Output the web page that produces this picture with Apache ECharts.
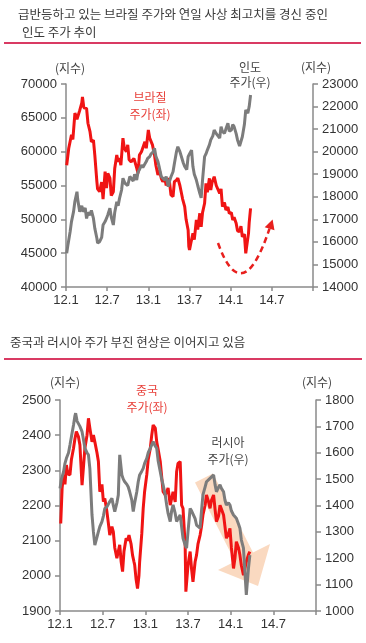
<!DOCTYPE html>
<html><head><meta charset="utf-8">
<script src="https://cdn.jsdelivr.net/npm/echarts@6/dist/echarts.min.js"></script>
<style>html,body{margin:0;padding:0;background:#fff;}#c{width:366px;height:643px;}</style>
</head><body><div id="c"></div>
<script>
// x tick labels (every 6 months from 2012.1)
const xTickLabels = ['12.1','12.7','13.1','13.7','14.1','14.7',''];

// Chart 1: Brazil (left axis) - months since 2012.1
const brazilT = [0.1,0.4,0.8,1.0,1.3,1.6,2.0,2.3,2.4,2.6,3.0,3.2,3.5,3.7,4.0,4.2,4.5,4.6,4.9,5.2,5.4,5.7,5.9,6.1,6.4,6.6,6.9,7.1,7.4,7.6,7.8,8.0,8.3,8.5,8.8,9.0,9.2,9.5,9.9,10.3,10.5,10.7,11.0,11.5,11.7,12.0,12.2,12.4,12.6,12.9,13.1,13.4,13.6,13.9,14.1,14.4,14.6,14.9,15.1,15.3,15.6,15.8,16.1,16.3,16.6,16.8,17.0,17.3,17.5,17.8,17.9,18.0,18.2,18.5,18.7,19.0,19.2,19.5,19.7,19.9,20.2,20.4,20.6,20.9,21.1,21.3,21.6,21.9,22.1,22.4,22.6,22.8,23.1,23.3,23.6,23.8,24.1,24.3,24.5,24.8,25.0,25.3,25.5,25.7,26.0,26.2,26.4,26.6,26.7,26.9];
const brazilV = [58000,60500,62500,61800,65700,64800,66100,67200,68100,66500,66400,64200,62950,61470,61700,59500,55560,54500,54080,55500,53000,57040,54630,56800,56100,53500,54080,57500,59500,58500,59060,58000,62000,60500,60000,61000,58800,58500,59000,57600,56800,59500,60000,61470,60500,63200,62000,62000,61000,59500,58000,56550,57300,56000,55560,56100,55000,56100,55400,53600,53340,55560,55800,56100,55000,55000,53000,51870,50000,48420,46000,45460,46500,47930,47000,49900,48500,50890,48900,51000,52370,55320,54000,56060,54330,55500,56300,55000,54820,53850,54500,51870,52500,51380,51800,50890,51000,49900,50300,49410,48300,48170,49000,47430,47800,44980,46500,47930,49500,51630];

// Chart 1: India (right axis)
const indiaT = [0.1,0.3,0.6,0.8,1.1,1.3,1.6,1.7,2.0,2.3,2.5,2.8,3.0,3.2,3.5,3.7,4.0,4.2,4.5,4.6,4.9,5.2,5.4,5.7,5.9,6.1,6.4,6.6,6.9,7.1,7.4,7.6,7.8,8.1,8.3,8.6,8.8,9.0,9.3,9.5,9.8,10.0,10.3,10.5,10.7,11.0,11.2,11.7,11.9,12.2,12.4,12.7,12.9,13.1,13.4,13.6,13.9,14.1,14.4,14.6,14.9,15.1,15.3,15.6,15.8,16.1,16.3,16.6,16.8,17.1,17.3,17.6,17.8,18.0,18.3,18.5,18.7,19.0,19.2,19.5,19.7,19.9,20.2,20.4,20.6,20.9,21.1,21.4,21.6,21.9,22.1,22.4,22.6,22.8,23.1,23.3,23.6,23.8,24.1,24.3,24.5,24.8,25.0,25.3,25.5,25.7,26.0,26.2,26.5,26.7,26.9];
const indiaV = [15500,15900,16450,16900,17340,17800,18225,17900,17340,17600,17340,17500,17040,17300,17190,17400,17040,16600,16160,15950,16010,16200,16750,16900,17040,17200,17490,17100,16750,17300,17780,17600,17930,18300,18820,18600,18670,18500,18900,18890,18700,19000,18740,19100,19200,19410,19300,19560,19700,19780,19900,20000,20150,19800,19560,19300,18890,18970,18740,18900,18450,18700,18890,19110,19480,20000,20220,20000,19930,19500,19340,19200,19780,19900,20070,19340,19000,18740,18500,18150,17950,18740,19780,19900,20070,20300,20520,20700,20960,20800,20810,20600,21110,20900,20810,21000,21260,20900,20960,21200,21110,20800,20520,20250,20300,20660,21200,21850,21700,22000,22510];

// Chart 2: China (left axis)
const chinaT = [0.1,0.3,0.5,0.7,0.9,1.1,1.4,1.6,1.9,2.1,2.3,2.6,2.8,3.1,3.3,3.5,3.8,4.0,4.2,4.5,4.7,4.9,5.2,5.4,5.6,5.9,6.1,6.3,6.6,6.8,7.0,7.3,7.5,7.7,8.0,8.2,8.4,8.6,8.8,9.0,9.3,9.5,9.7,10.0,10.2,10.4,10.5,10.7,10.9,11.1,11.2,11.5,11.7,11.9,12.2,12.4,12.7,12.9,13.1,13.4,13.6,13.8,14.1,14.3,14.5,14.8,15.0,15.2,15.5,15.7,15.9,16.2,16.4,16.6,16.9,17.1,17.3,17.6,17.7,18.0,18.3,18.5,18.7,19.0,19.2,19.4,19.7,19.9,20.1,20.4,20.6,20.9,21.1,21.3,21.6,21.8,22.0,22.3,22.5,22.7,23.0,23.2,23.4,23.7,23.9,24.1,24.4,24.6,24.8,25.1,25.3,25.5,25.8,26.0,26.2,26.5,26.7];
const chinaV = [2149,2250,2287,2260,2315,2290,2287,2330,2363,2390,2410,2395,2372,2258,2310,2363,2400,2448,2420,2381,2400,2381,2350,2325,2239,2260,2211,2220,2182,2150,2116,2140,2125,2080,2050,2070,2088,2040,2012,2070,2107,2100,2116,2090,2059,2040,2031,1990,1964,2000,2040,2120,2192,2240,2287,2330,2363,2400,2429,2420,2381,2360,2325,2330,2239,2230,2239,2250,2201,2220,2239,2210,2296,2320,2325,2201,2192,2088,1955,2030,2069,2020,1983,2040,2059,2090,2116,2140,2173,2200,2230,2210,2192,2215,2230,2190,2154,2170,2201,2190,2173,2140,2107,2120,2135,2080,2021,2050,2097,2080,2059,2030,2002,2020,2040,2060,2069];

// Chart 2: Russia (right axis)
const russiaT = [0.0,0.2,0.5,0.7,0.9,1.2,1.4,1.6,1.9,2.1,2.2,2.4,2.6,2.8,3.1,3.3,3.5,3.8,4.0,4.2,4.5,4.7,4.9,5.2,5.4,5.6,5.9,6.1,6.3,6.6,6.8,7.0,7.3,7.5,7.7,8.0,8.2,8.3,8.4,8.7,8.9,9.1,9.4,9.6,9.8,10.1,10.3,10.5,10.8,11.0,11.2,11.5,11.7,11.9,12.2,12.4,12.7,12.9,13.1,13.4,13.6,13.8,14.1,14.3,14.5,14.8,15.0,15.2,15.5,15.7,15.9,16.2,16.4,16.6,16.9,17.1,17.3,17.6,17.8,18.0,18.3,18.5,18.7,19.0,19.2,19.4,19.7,19.9,20.1,20.4,20.6,20.8,21.1,21.3,21.6,21.8,22.0,22.3,22.5,22.7,23.0,23.2,23.4,23.7,23.9,24.1,24.4,24.6,24.8,25.1,25.3,25.5,25.8,26.0,26.2,26.5,26.7];
const russiaV = [1465,1500,1528,1560,1579,1600,1629,1660,1705,1740,1750,1720,1718,1700,1680,1650,1617,1600,1592,1540,1364,1300,1250,1280,1301,1320,1339,1360,1389,1395,1402,1415,1427,1400,1377,1410,1440,1520,1592,1516,1500,1490,1480,1470,1452,1420,1377,1410,1452,1490,1516,1530,1541,1560,1579,1600,1617,1630,1642,1625,1617,1570,1528,1500,1478,1440,1402,1370,1339,1380,1402,1370,1339,1350,1364,1320,1276,1250,1238,1300,1389,1380,1377,1350,1326,1320,1314,1380,1440,1470,1490,1495,1503,1510,1516,1480,1452,1470,1478,1465,1452,1420,1402,1410,1402,1380,1364,1360,1352,1330,1314,1270,1238,1150,1061,1162,1212];

const pair = (t, v) => t.map((x, i) => [x, v[i]]);

const RED = '#f01414', GRAY = '#7c7c7c', AXIS = '#8a8a8a', TXT = '#333';
const LAT = 'Liberation Sans, Arial, sans-serif';
const KR = '"Noto Sans CJK KR", sans-serif';

function xAxis(gi) {
  return {
    type: 'value', gridIndex: gi, min: 0, max: 36, interval: 6,
    axisLine: { show: true, lineStyle: { color: AXIS, width: 1.5 } },
    axisTick: { show: true, length: 4, lineStyle: { color: AXIS, width: 1.5 } },
    splitLine: { show: false },
    axisLabel: { margin: 7, color: TXT, fontSize: 13, fontFamily: LAT,
      formatter: v => xTickLabels[Math.round(v / 6)] || '' }
  };
}
function yAxis(gi, pos, min, max, interval) {
  return {
    type: 'value', gridIndex: gi, position: pos, min, max, interval,
    axisLine: { show: true, lineStyle: { color: AXIS, width: 1.5 } },
    axisTick: { show: true, length: 5, lineStyle: { color: AXIS, width: 1.5 } },
    splitLine: { show: false },
    axisLabel: { margin: 9, color: TXT, fontSize: 13, fontFamily: LAT, formatter: v => String(v) }
  };
}
function line(name, data, xi, yi, color, z) {
  return { name, type: 'line', data, xAxisIndex: xi, yAxisIndex: yi, showSymbol: false,
    lineStyle: { color, width: 3 }, itemStyle: { color }, z, animation: false };
}
function txt(x, y, text, color, size, align) {
  return { type: 'text', x, y, z: 120, style: { text, fill: color, fontSize: size,
    fontFamily: KR, textAlign: align || 'left', textVerticalAlign: 'middle' } };
}

const chart = echarts.init(document.getElementById('c'), null, { renderer: 'canvas' });
chart.setOption({
  animation: false,
  backgroundColor: '#fff',
  grid: [
    { left: 66, right: 53, top: 84, height: 203 },
    { left: 60, right: 50, top: 400, height: 211 }
  ],
  xAxis: [xAxis(0), xAxis(1)],
  yAxis: [
    yAxis(0, 'left', 40000, 70000, 5000),
    yAxis(0, 'right', 14000, 23000, 1000),
    yAxis(1, 'left', 1900, 2500, 100),
    yAxis(1, 'right', 1000, 1800, 100)
  ],
  series: [
    line('브라질', pair(brazilT, brazilV), 0, 0, RED, 3),
    line('인도', pair(indiaT, indiaV), 0, 1, GRAY, 4),
    line('중국', pair(chinaT, chinaV), 1, 2, RED, 3),
    line('러시아', pair(russiaT, russiaV), 1, 3, GRAY, 4)
  ],
  graphic: [
    txt(18, 14, '급반등하고 있는 브라질 주가와 연일 사상 최고치를 경신 중인', '#3a3a3a', 12.5),
    txt(22, 32, '인도 주가 추이', '#3a3a3a', 12.5),
    { type: 'line', shape: { x1: 4, y1: 43, x2: 361, y2: 43 }, style: { stroke: '#d93a63', lineWidth: 2 } },
    txt(10, 342, '중국과 러시아 주가 부진 현상은 이어지고 있음', '#3a3a3a', 12.5),
    { type: 'line', shape: { x1: 4, y1: 359, x2: 362, y2: 359 }, style: { stroke: '#d93a63', lineWidth: 2 } },
    txt(70, 68, '(지수)', '#444', 12, 'center'),
    txt(316, 67, '(지수)', '#444', 12, 'center'),
    txt(65, 382, '(지수)', '#444', 12, 'center'),
    txt(317, 382, '(지수)', '#444', 12, 'center'),
    txt(150, 97, '브라질', '#e8403a', 12, 'center'),
    txt(150, 114, '주가(좌)', '#e8403a', 12, 'center'),
    txt(250, 67, '인도', '#444', 12, 'center'),
    txt(250, 82, '주가(우)', '#444', 12, 'center'),
    txt(147, 390, '중국', '#e8403a', 12, 'center'),
    txt(147, 407, '주가(좌)', '#e8403a', 12, 'center'),
    txt(228, 442, '러시아', '#444', 12, 'center'),
    txt(228, 459, '주가(우)', '#444', 12, 'center'),
    { type: 'bezierCurve', z: 110, shape: { x1: 218, y1: 243, x2: 269.5, y2: 228.6, cpx1: 242.3, cpy1: 310.2 },
      style: { stroke: '#e8201e', lineWidth: 2.5, lineDash: [6, 4], fill: null } },
    { type: 'polygon', z: 110, shape: { points: [[272.6, 219.5], [274.5, 230.2], [264.7, 227.3]] },
      style: { fill: '#e8201e' } },
    { type: 'polygon', z: 1, shape: { points: [[195, 482.5], [213, 473.5], [253, 552.5], [270, 544], [258, 586], [218, 570], [235, 561.5]] },
      style: { fill: 'rgba(246,185,140,0.55)' } }
  ]
});
</script>
</body></html>
